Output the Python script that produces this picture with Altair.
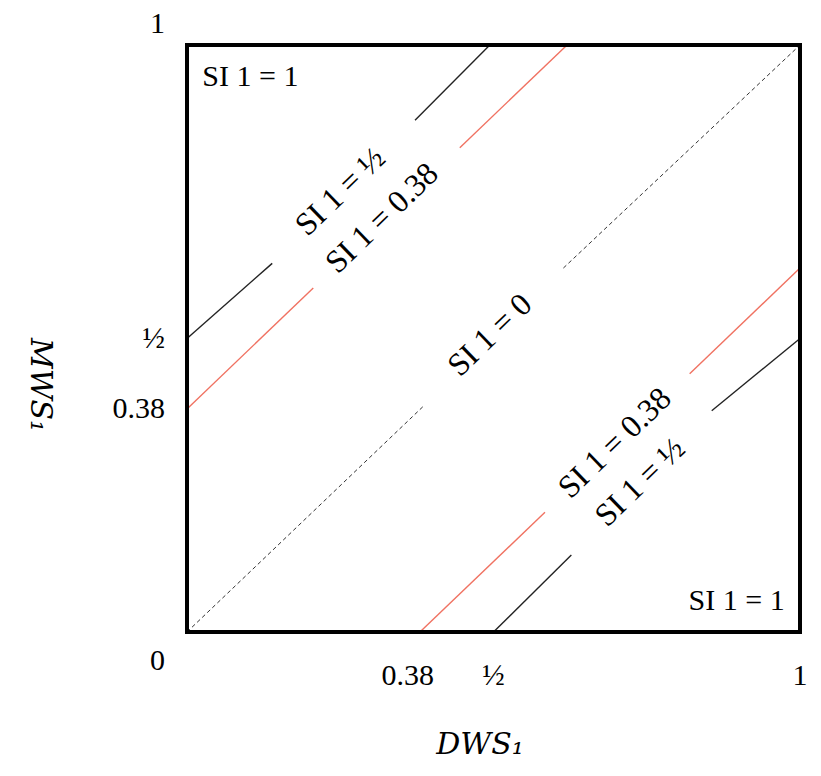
import altair as alt
import pandas as pd

# line segments y = x + c, broken where labels sit
seg_id = ["b1a", "b1a", "b1b", "b1b", "r1a", "r1a", "r1b", "r1b",
          "d0a", "d0a", "d0b", "d0b", "r2a", "r2a", "r2b", "r2b",
          "b2a", "b2a", "b2b", "b2b"]
seg_kind = ["black"] * 4 + ["red"] * 4 + ["dash"] * 4 + ["red"] * 4 + ["black"] * 4
seg_x = [0, 0.139, 0.372, 0.494, 0, 0.206, 0.445, 0.62,
         0, 0.388, 0.614, 1, 0.38, 0.584, 0.82, 1,
         0.5, 0.627, 0.856, 1]
seg_y = [0.5, 0.628, 0.872, 1, 0.38, 0.586, 0.825, 1,
         0, 0.387, 0.62, 1, 0, 0.204, 0.44, 0.62,
         0, 0.131, 0.377, 0.5]

lab_text = ["SI 1 = ½", "SI 1 = 0.38", "SI 1 = 0", "SI 1 = 0.38", "SI 1 = ½"]
lab_x = [0.25, 0.318, 0.494, 0.698, 0.739]
lab_y = [0.75, 0.705, 0.506, 0.322, 0.255]

corner_text = ["SI 1 = 1", "SI 1 = 1"]
corner_x = [0.025, 0.975]
corner_y = [0.945, 0.052]
corner_align = ["left", "right"]

ytick_text = ["1", "½", "0.38", "0"]
ytick_val = [1.035, 0.5, 0.38, -0.05]
xtick_text = ["0.38", "½", "1"]
xtick_val = [0.36, 0.5, 1.0]

segs = pd.DataFrame({"id": seg_id, "kind": seg_kind, "x": seg_x, "y": seg_y})
labs = pd.DataFrame({"t": lab_text, "x": lab_x, "y": lab_y})
corners = pd.DataFrame({"t": corner_text, "x": corner_x, "y": corner_y, "a": corner_align})
yt = pd.DataFrame({"t": ytick_text, "y": ytick_val})
xt = pd.DataFrame({"t": xtick_text, "x": xtick_val})

FONT = "Liberation Serif"
sx = alt.Scale(domain=[0, 1], nice=False, zero=False)
sy = alt.Scale(domain=[0, 1], nice=False, zero=False)
X = lambda f="x": alt.X(f"{f}:Q", scale=sx, axis=None)
Y = lambda f="y": alt.Y(f"{f}:Q", scale=sy, axis=None)

base = alt.Chart(segs)
solid = base.transform_filter("datum.kind != 'dash'").mark_line(strokeWidth=1.4, clip=False).encode(
    x=X(), y=Y(), detail="id:N",
    color=alt.Color("kind:N", scale=alt.Scale(domain=["black", "red"], range=["#222222", "#f07262"]), legend=None))
dash = base.transform_filter("datum.kind == 'dash'").mark_line(
    strokeWidth=1, strokeDash=[4, 3], color="#333333").encode(x=X(), y=Y(), detail="id:N")

frame = alt.Chart(pd.DataFrame({"a": [0]})).mark_rect(
    fill=None, stroke="black", strokeWidth=4).encode(
    x=alt.value(0), x2=alt.value(613), y=alt.value(0), y2=alt.value(587))

labels = alt.Chart(labs).mark_text(font=FONT, fontSize=32, angle=316, color="black").encode(
    x=X(), y=Y(), text="t:N")
corner_l = alt.Chart(corners).transform_filter("datum.a == 'left'").mark_text(
    font=FONT, fontSize=30, align="left", color="black").encode(x=X(), y=Y(), text="t:N")
corner_r = alt.Chart(corners).transform_filter("datum.a == 'right'").mark_text(
    font=FONT, fontSize=30, align="right", color="black").encode(x=X(), y=Y(), text="t:N")

ylab = alt.Chart(yt).mark_text(font=FONT, fontSize=30, align="right", dx=-22, color="black").encode(
    x=alt.value(0), y=Y(), text="t:N")
xlab = alt.Chart(xt).mark_text(font=FONT, fontSize=30, dy=44, color="black").encode(
    x=X(), y=alt.value(587), text="t:N")

xtitle = alt.Chart(pd.DataFrame({"t": ["DWS₁"]})).mark_text(
    font="DejaVu Serif", fontStyle="italic", fontSize=30, color="black").encode(
    x=alt.value(293), y=alt.value(700), text="t:N")
ytitle = alt.Chart(pd.DataFrame({"t": ["MWS₁"]})).mark_text(
    font="DejaVu Serif", fontStyle="italic", fontSize=30, angle=90, color="black").encode(
    x=alt.value(-147), y=alt.value(340), text="t:N")

chart = alt.layer(solid, dash, frame, labels, corner_l, corner_r, ylab, xlab, xtitle, ytitle).properties(
    width=613, height=587,
    autosize=alt.AutoSizeParams(type="none"),
    padding={"left": 179, "top": 37, "right": 13, "bottom": 136},
).configure_view(stroke=None).configure(background="white")

chart.save("out.html", embed_options={"renderer": "svg", "actions": False})
